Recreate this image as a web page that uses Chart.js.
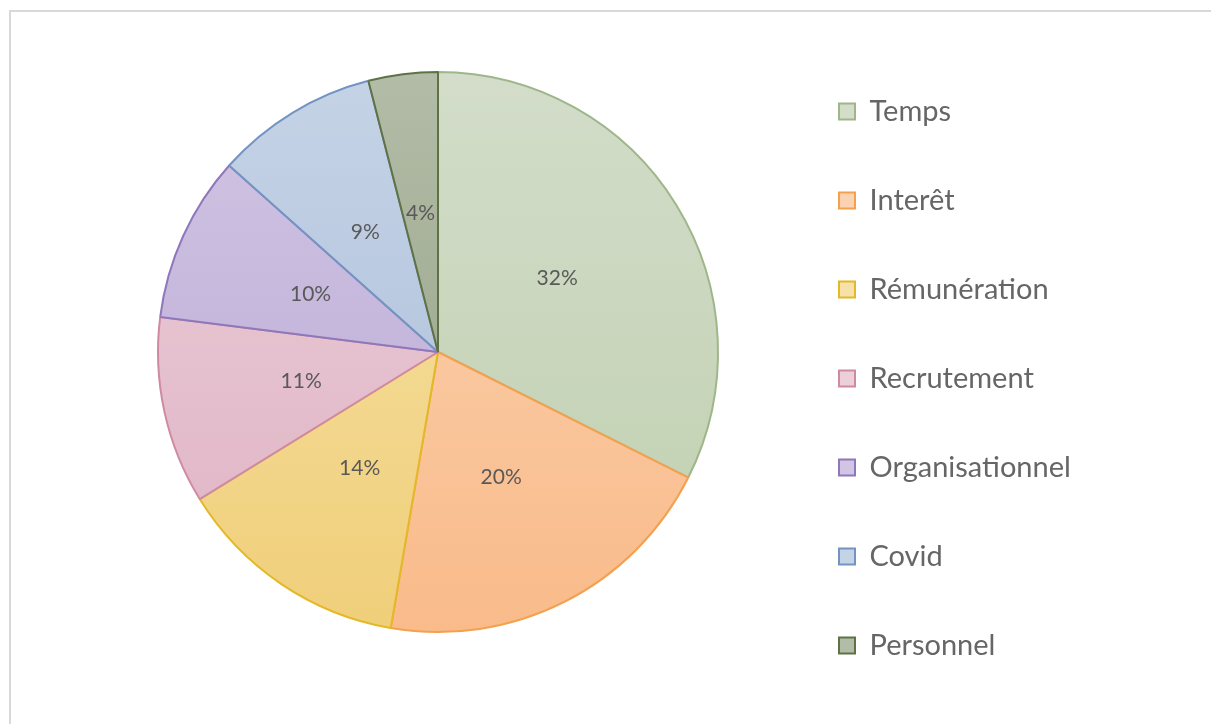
<!DOCTYPE html>
<html lang="fr">
<head>
  <meta charset="UTF-8" />
  <title>Répartition des motifs</title>
  <script src="https://cdn.jsdelivr.net/npm/chart.js"></script>
  <style>
    body { margin: 0; background: #fff; overflow: hidden; }
    #frame { position: absolute; left: 9px; top: 10px; width: 1240px; height: 740px; border: 2px solid #d9d9d9; pointer-events: none; }
    #pie { position: absolute; left: 0; top: 0; }
  </style>
</head>
<body>
  <canvas id="pie" width="1211" height="724"></canvas>
  <div id="frame"></div>

  <script>
    // donnees (en %)
    const categories = ["Temps", "Interêt", "Rémunération", "Recrutement", "Organisationnel", "Covid", "Personnel"];
    const valeurs = [32.4, 20.3, 13.5, 10.8, 9.6, 9.4, 4.0];

    // couleurs : haut du degrade, bas du degrade, contour
    const couleurHaut = ["#d3ddca", "#fbd3b3", "#f6e2a8", "#ebcfd9", "#d1c5e3", "#c5d3e6", "#b2bca6"];
    const couleurBas = ["#bfcfae", "#f9bb8a", "#f0cf7a", "#dfb2c3", "#b9a7d4", "#a9bcd8", "#949f86"];
    const couleurBord = ["#9fb68a", "#f3a14f", "#e4b826", "#cf8aa2", "#8f77bb", "#7394c3", "#5e7245"];

    const rayon = 280;
    const taillePolice = 29;
    const espacement = 60;
    const boite = 16;
    const texteGris = "#595959";
    const legendeGris = "#666666";

    // largeur de la legende pour placer le camembert au bon endroit
    const mesure = document.createElement("canvas").getContext("2d");
    mesure.font = taillePolice + "px Lato";
    const largeurTexte = Math.max(...categories.map(c => mesure.measureText(c).width));
    const largeurLegende = espacement + boite + taillePolice / 2 + largeurTexte + 10;
    const gaucheLegende = 839 - espacement;
    const padDroite = 1211 - gaucheLegende - largeurLegende;
    const padGauche = 2 * 438 - gaucheLegende;

    function degrade(ctx, i) {
      const chart = ctx.chart;
      const area = chart.chartArea;
      if (!area) return couleurHaut[i];
      const cy = (area.top + area.bottom) / 2;
      const g = chart.ctx.createLinearGradient(0, cy - rayon, 0, cy + rayon);
      g.addColorStop(0, couleurHaut[i]);
      g.addColorStop(1, couleurBas[i]);
      return g;
    }

    const etiquettes = {
      id: "etiquettes",
      afterDatasetsDraw(chart) {
        const ctx = chart.ctx;
        const meta = chart.getDatasetMeta(0);
        const total = valeurs.reduce((a, b) => a + b, 0);
        ctx.save();
        ctx.font = "21px Lato";
        ctx.fillStyle = texteGris;
        ctx.textAlign = "center";
        ctx.textBaseline = "middle";
        meta.data.forEach((arc, i) => {
          const p = arc.tooltipPosition();
          ctx.fillText(Math.round(valeurs[i] / total * 100) + "%", p.x, p.y);
        });
        ctx.restore();
      }
    };

    new Chart(document.getElementById("pie"), {
      type: "pie",
      data: {
        labels: categories,
        datasets: [{
          data: valeurs,
          backgroundColor: ctx => degrade(ctx, ctx.dataIndex),
          borderColor: couleurBord,
          borderWidth: 2,
          radius: rayon
        }]
      },
      options: {
        responsive: false,
        animation: false,
        devicePixelRatio: 1,
        layout: { padding: { top: 37, bottom: 0, left: padGauche, right: padDroite } },
        plugins: {
          tooltip: { enabled: false },
          title: {
            display: true,
            position: "bottom",
            fullSize: false,
            text: "",
            font: { size: 10, lineHeight: 1 },
            padding: { top: 47, bottom: 0 }
          },
          legend: {
            position: "right",
            align: "start",
            labels: {
              color: legendeGris,
              font: { family: "Lato", size: taillePolice },
              boxWidth: boite,
              boxHeight: boite,
              padding: espacement,
              generateLabels: chart => categories.map((c, i) => ({
                text: c,
                fillStyle: couleurHaut[i],
                strokeStyle: couleurBord[i],
                lineWidth: 2,
                fontColor: legendeGris,
                index: i
              }))
            }
          }
        }
      },
      plugins: [etiquettes]
    });
  </script>
</body>
</html>
